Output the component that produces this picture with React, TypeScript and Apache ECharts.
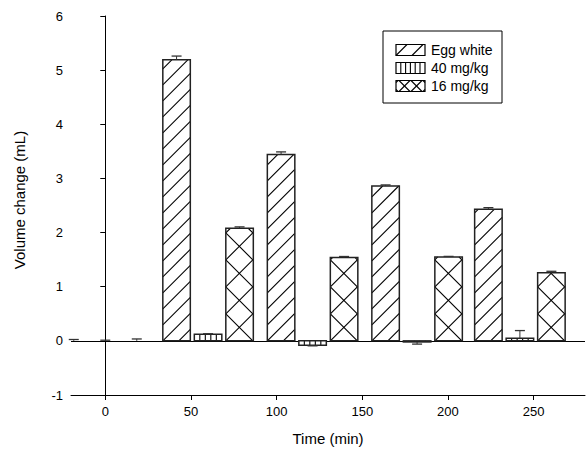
import React, { useEffect, useRef } from "react";
import * as echarts from "echarts";

const FONT = '"Liberation Sans", Arial, Helvetica, sans-serif';

// ---- data ----
const times = [0, 60, 121, 182, 242];
const seriesNames = ["Egg white", "40 mg/kg", "16 mg/kg"];
const eggWhite = [0, 5.19, 3.44, 2.86, 2.43];
const eggWhiteErr = [0.025, 0.07, 0.05, 0.02, 0.03];
const mg40 = [0, 0.12, -0.08, -0.02, 0.05];
const mg40Err = [0.012, 0.012, 0.012, 0.04, 0.14];
const mg16 = [0, 2.08, 1.54, 1.55, 1.26];
const mg16Err = [0.035, 0.025, 0.018, 0.01, 0.025];
const xTicks = [0, 50, 100, 150, 200, 250];

type Seg = [number, number, number, number];
type Kind = "diag" | "vert" | "cross";

// hatch segments clipped to a rect (x0,y0,w,h), anchored at (ax, ay)
function hatch(kind: Kind, x0: number, y0: number, w: number, h: number, s: number, ax: number, ay: number): Seg[] {
  const out: Seg[] = [];
  const x1 = x0 + w;
  const y1 = y0 + h;
  if (kind === "vert") {
    const k0 = Math.ceil((x0 - ax) / s);
    const k1 = Math.floor((x1 - ax) / s);
    for (let k = k0; k <= k1; k++) {
      const x = ax + k * s;
      if (x - x0 > 0.8 && x1 - x > 0.8) out.push([x, y0, x, y1]);
    }
    return out;
  }
  // lines x + y = c (rising to the right on screen)
  {
    const c0 = ax + ay;
    const k0 = Math.ceil((x0 + y0 - c0) / s);
    const k1 = Math.floor((x1 + y1 - c0) / s);
    for (let k = k0; k <= k1; k++) {
      const c = c0 + k * s;
      const xa = Math.max(x0, c - y1);
      const xb = Math.min(x1, c - y0);
      if (xb - xa > 0.4) out.push([xa, c - xa, xb, c - xb]);
    }
  }
  if (kind === "cross") {
    // lines y - x = d
    const d0 = ay - ax;
    const k0 = Math.ceil((y0 - x1 - d0) / s);
    const k1 = Math.floor((y1 - x0 - d0) / s);
    for (let k = k0; k <= k1; k++) {
      const d = d0 + k * s;
      const xa = Math.max(x0, y0 - d);
      const xb = Math.min(x1, y1 - d);
      if (xb - xa > 0.4) out.push([xa, xa + d, xb, xb + d]);
    }
  }
  return out;
}

const kinds: Kind[] = ["diag", "vert", "cross"];
const spacing = [16, 5.5, 27];
const offsets = [-31.5, 0, 31.5];
const BAR_W = 27.5;

function segLines(segs: Seg[], lw: number) {
  return segs.map((g) => ({
    type: "line",
    shape: { x1: g[0], y1: g[1], x2: g[2], y2: g[3] },
    style: { stroke: "#000", lineWidth: lw },
    silent: true,
  }));
}

function makeRender(i: number) {
  return (params: any, api: any) => {
    const t = api.value(0);
    const v = api.value(1);
    const e = api.value(2);
    const base = api.coord([t, 0]);
    const top = api.coord([t, v]);
    const cx = base[0] + offsets[i];
    const x0 = cx - BAR_W / 2;
    const y0 = Math.min(base[1], top[1]);
    const h = Math.abs(base[1] - top[1]);
    const dir = v < 0 ? -1 : 1;
    const errEnd = api.coord([t, v + dir * e]);
    const children: any[] = [];
    if (h >= 1) {
      children.push({
        type: "rect",
        shape: { x: x0, y: y0, width: BAR_W, height: h },
        style: { fill: "#fff", stroke: "none" },
      });
      const ay = base[1];
      children.push(...segLines(hatch(kinds[i], x0, y0, BAR_W, h, spacing[i], x0, ay), 1.1));
      children.push({
        type: "rect",
        shape: { x: x0, y: y0, width: BAR_W, height: h },
        style: { fill: "none", stroke: "#222", lineWidth: 1.5 },
      });
    }
    children.push({
      type: "line",
      shape: { x1: cx, y1: top[1], x2: cx, y2: errEnd[1] },
      style: { stroke: "#333", lineWidth: 1 },
    });
    children.push({
      type: "line",
      shape: { x1: cx - 5, y1: errEnd[1], x2: cx + 5, y2: errEnd[1] },
      style: { stroke: "#333", lineWidth: 1.3 },
    });
    return { type: "group", children };
  };
}

function legendGraphics() {
  const els: any[] = [];
  const bx = 383, by = 31, bw = 119, bh = 72;
  els.push({
    type: "rect",
    shape: { x: bx, y: by, width: bw, height: bh },
    style: { fill: "#fff", stroke: "#000", lineWidth: 1 },
    z: 100,
  });
  const rows = [50, 68, 86];
  const legendSpacing = [16, 4.8, 12];
  const ix = 396, iw = 29, ih = 11;
  rows.forEach((cy, i) => {
    const iy = cy - ih / 2;
    const anchorX = i === 2 ? ix + 8.5 : ix;
    const anchorY = i === 2 ? cy : iy + ih;
    const segs = hatch(kinds[i], ix, iy, iw, ih, legendSpacing[i], anchorX, anchorY);
    segLines(segs, 1.1).forEach((l: any) => els.push({ ...l, z: 101 }));
    els.push({
      type: "rect",
      shape: { x: ix, y: iy, width: iw, height: ih },
      style: { fill: "none", stroke: "#000", lineWidth: 1.2 },
      z: 101,
    });
    els.push({
      type: "text",
      x: 431,
      y: cy,
      style: {
        text: seriesNames[i],
        fill: "#000",
        font: `14px ${FONT}`,
        textAlign: "left",
        textVerticalAlign: "middle",
      },
      z: 101,
    });
  });
  return els;
}

export default function App() {
  const ref = useRef<HTMLDivElement>(null);
  useEffect(() => {
    if (!ref.current) return;
    const chart = echarts.init(ref.current, undefined, { renderer: "svg" });
    const values = [eggWhite, mg40, mg16];
    const errs = [eggWhiteErr, mg40Err, mg16Err];
    const series: any[] = values.map((vals, i) => ({
      type: "custom",
      name: seriesNames[i],
      renderItem: makeRender(i),
      encode: { x: 0, y: 1 },
      data: times.map((t, j) => [t, vals[j], errs[i][j]]),
      z: 5,
      ...(i === 0
        ? {
            markLine: {
              silent: true,
              symbol: "none",
              label: { show: false },
              lineStyle: { color: "#000", width: 1, type: "solid" },
              data: [{ yAxis: 0 }],
              z: 1,
            },
          }
        : {}),
    }));
    chart.setOption({
      animation: false,
      textStyle: { fontFamily: FONT },
      grid: { left: 71, top: 16, width: 514, height: 379 },
      xAxis: {
        type: "value",
        min: -20,
        max: 280,
        name: "Time (min)",
        nameLocation: "middle",
        nameGap: 36,
        nameTextStyle: { fontSize: 15, color: "#000", fontFamily: FONT },
        axisLine: { show: true, onZero: false, lineStyle: { color: "#000", width: 1 } },
        axisTick: { show: true, customValues: xTicks, length: 5, lineStyle: { color: "#000" } },
        axisLabel: { customValues: xTicks, fontSize: 13, color: "#000", margin: 10, fontFamily: FONT },
        splitLine: { show: false },
      },
      yAxis: {
        type: "value",
        min: -1,
        max: 6,
        interval: 1,
        axisLine: { show: true, lineStyle: { color: "#000", width: 1 } },
        axisTick: { show: true, length: 5, lineStyle: { color: "#000" } },
        axisLabel: { fontSize: 13, color: "#000", margin: 8, fontFamily: FONT },
        splitLine: { show: false },
      },
      graphic: [
        {
          type: "text",
          x: 19,
          y: 200,
          rotation: Math.PI / 2,
          style: {
            text: "Volume change (mL)",
            fill: "#000",
            font: `15px ${FONT}`,
            textAlign: "center",
            textVerticalAlign: "middle",
          },
        },
        ...legendGraphics(),
      ],
      series,
    });
    return () => chart.dispose();
  }, []);
  return <div ref={ref} style={{ width: 587, height: 459, position: "absolute", left: 0, top: 0, background: "#fff" }} />;
}
